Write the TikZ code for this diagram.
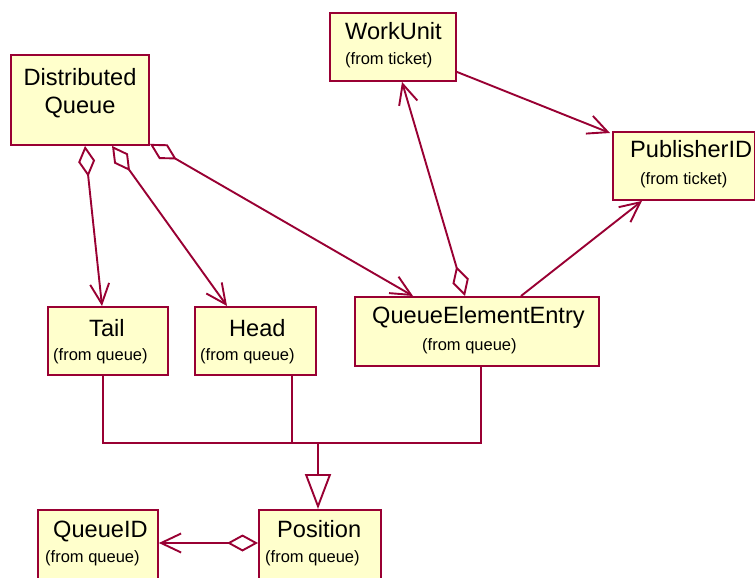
\documentclass[tikz,border=0pt]{standalone}
\usepackage{fontspec}
\setmainfont{Liberation Sans}
\usetikzlibrary{arrows.meta}
\definecolor{umlline}{HTML}{990033}
\definecolor{umlfill}{HTML}{FFFFCC}
\tikzset{
  classbox/.style={draw=umlline, fill=umlfill, line width=1.9pt, anchor=north west, inner sep=0pt},
  title/.style={inner sep=0pt, font=\fontsize{23.6}{26}\selectfont},
  origin/.style={inner sep=0pt, font=\fontsize{16.5}{18}\selectfont},
  link/.style={draw=umlline, line width=1.9pt},
  nav/.tip={Straight Barb[length=20pt, width=19pt, line width=1.9pt]},
  agg/.tip={Diamond[open, length=31pt, width=17pt, line width=1.9pt]},
  gen/.tip={Triangle[open, length=35pt, width=26pt, line width=1.9pt]}
}
\begin{document}
\begin{tikzpicture}[x=1pt, y=-1pt]
\useasboundingbox[fill=white] (0,0) rectangle (755,578);

% class boxes
\node[classbox, minimum width=138pt, minimum height=90pt] (dq) at (10,54) {};
\node[classbox, minimum width=126pt, minimum height=68pt] (wu) at (329,12) {};
\node[classbox, minimum width=142pt, minimum height=68pt] (pid) at (612,131) {};
\node[classbox, minimum width=244pt, minimum height=69pt] (qee) at (354,296) {};
\node[classbox, minimum width=120pt, minimum height=68pt] (tail) at (47,306) {};
\node[classbox, minimum width=121pt, minimum height=68pt] (head) at (194,306) {};
\node[classbox, minimum width=120pt, minimum height=74pt] (qid) at (37,509) {};
\node[classbox, minimum width=122pt, minimum height=74pt] (pos) at (258,509) {};

% class names and packages
\node[title, anchor=base] (dqA) at (80,85) {Distributed};
\node[title, anchor=base] (dqB) at (80,113) {Queue};
\node[title, anchor=base west] (wuT) at (345,40) {WorkUnit};
\node[origin, anchor=base west] (wuO) at (345,65) {(from ticket)};
\node[title, anchor=base west] (pidT) at (630,157) {PublisherID};
\node[origin, anchor=base west] (pidO) at (640,184) {(from ticket)};
\node[title, anchor=base west] (qeeT) at (372,323) {QueueElementEntry};
\node[origin, anchor=base west] (qeeO) at (422,350) {(from queue)};
\node[title, anchor=base west] (tailT) at (89,336) {Tail};
\node[origin, anchor=base west] (tailO) at (53,360) {(from queue)};
\node[title, anchor=base west] (headT) at (229,336) {Head};
\node[origin, anchor=base west] (headO) at (200,360) {(from queue)};
\node[title, anchor=base west] (qidT) at (53,537) {QueueID};
\node[origin, anchor=base west] (qidO) at (45,562) {(from queue)};
\node[title, anchor=base west] (posT) at (277,537) {Position};
\node[origin, anchor=base west] (posO) at (265,562) {(from queue)};

% aggregations
\draw[link, {agg}-{nav}] ([xshift=75pt]dq.south west) -- ([xshift=55pt]tail.north west);
\draw[link, {agg}-{nav}] ([xshift=102pt]dq.south west) -- ([xshift=33pt]head.north west);
\draw[link, {agg}-{nav}] ([yshift=2pt]dq.south east) -- ([xshift=59pt]qee.north west);
\draw[link, {agg}-{nav}] ([xshift=111pt]qee.north west) -- ([xshift=73pt]wu.south west);
\draw[link, {agg}-{nav}] ([yshift=-34pt]pos.north west) -- ([yshift=-34pt]qid.north east);

% associations
\draw[link, -{nav}] ([yshift=10pt]wu.south east) -- ([xshift=-2pt,yshift=-2pt]pid.north west);
\draw[link, -{nav}] ([xshift=167pt]qee.north west) -- ([xshift=30pt]pid.south west);

% generalization
\coordinate (bus) at (318,443);
\draw[link] ([xshift=56pt]tail.south west) |- (bus) -| ([xshift=127pt]qee.south west);
\draw[link] ([xshift=98pt]head.south west) -- ([xshift=98pt]head.south west |- bus);
\draw[link, -{gen}] (bus) -- (bus |- pos.north);
\end{tikzpicture}
\end{document}
